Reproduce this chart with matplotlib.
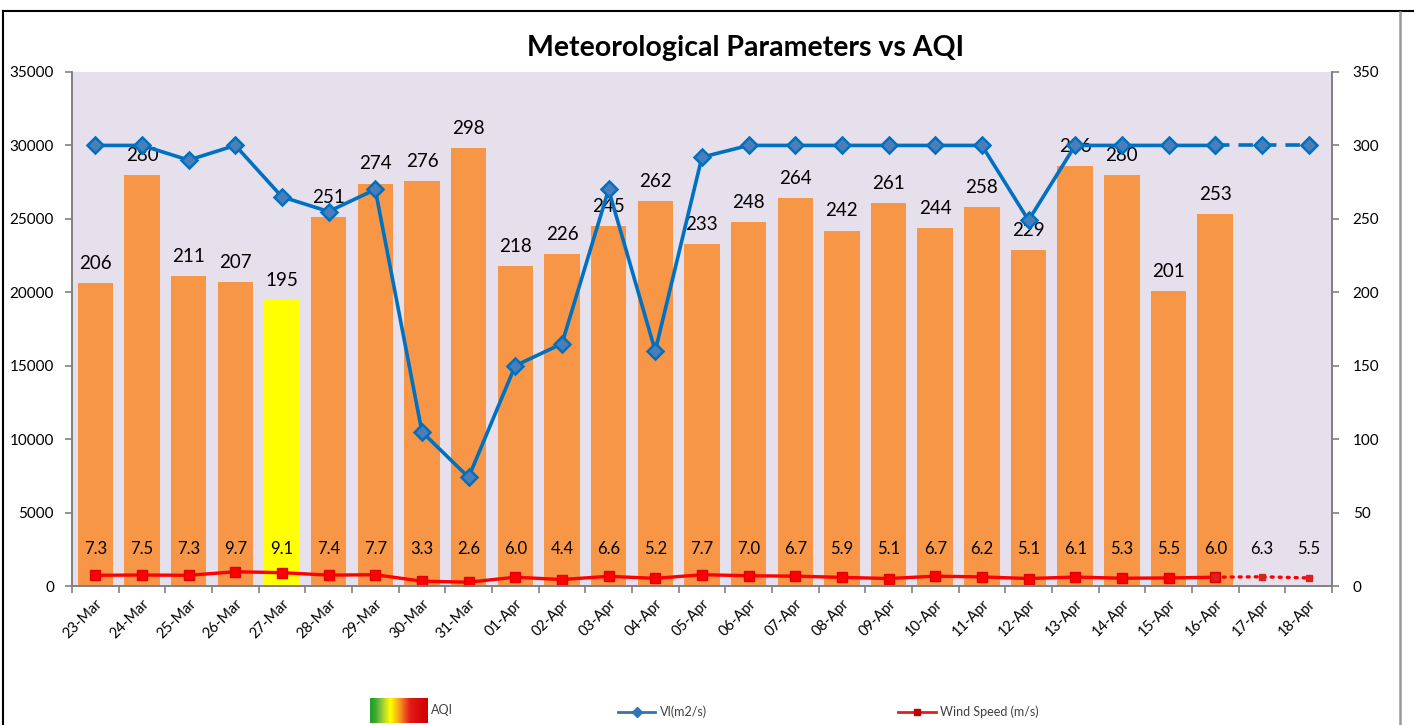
import matplotlib.pyplot as plt
import numpy as np
from matplotlib.lines import Line2D
from matplotlib.colors import LinearSegmentedColormap

plt.rcParams['font.family'] = ['Lato', 'DejaVu Sans']

# data
dates = ['23-Mar', '24-Mar', '25-Mar', '26-Mar', '27-Mar', '28-Mar', '29-Mar', '30-Mar', '31-Mar',
         '01-Apr', '02-Apr', '03-Apr', '04-Apr', '05-Apr', '06-Apr', '07-Apr', '08-Apr', '09-Apr',
         '10-Apr', '11-Apr', '12-Apr', '13-Apr', '14-Apr', '15-Apr', '16-Apr', '17-Apr', '18-Apr']
aqi = [206, 280, 211, 207, 195, 251, 274, 276, 298, 218, 226, 245, 262, 233, 248, 264, 242, 261,
       244, 258, 229, 286, 280, 201, 253]
vi = [30000, 30000, 29000, 30000, 26500, 25500, 27000, 10500, 7400, 15000, 16500, 27000, 16000,
      29200, 30000, 30000, 30000, 30000, 30000, 30000, 24900, 30000, 30000, 30000, 30000, 30000, 30000]
wind = [7.3, 7.5, 7.3, 9.7, 9.1, 7.4, 7.7, 3.3, 2.6, 6.0, 4.4, 6.6, 5.2, 7.7, 7.0, 6.7, 5.9, 5.1,
        6.7, 6.2, 5.1, 6.1, 5.3, 5.5, 6.0, 6.3, 5.5]
n_obs = len(aqi)  # observed days, the rest is forecast

x = np.arange(len(dates))
bar_colors = ['#FFFF00' if d == '27-Mar' else '#F79646' for d in dates[:n_obs]]

fig = plt.figure(figsize=(14.14, 7.25), dpi=100, facecolor='white')
ax2 = fig.add_axes([0.0509, 0.1917, 0.891, 0.709])
ax1 = ax2.twinx()
# left axis (VI) drawn above the bars
ax1.yaxis.tick_left()
ax2.yaxis.tick_right()
ax1.set_zorder(ax2.get_zorder() + 1)
ax1.patch.set_visible(False)
ax2.set_facecolor('#E5E0EC')

# AQI bars (right axis)
ax2.bar(x[:n_obs], aqi, width=0.76, color=bar_colors, zorder=2)
for i, v in enumerate(aqi):
    ax2.annotate(str(v), (x[i], v), xytext=(0, 8), textcoords='offset points',
                 ha='center', va='bottom', fontsize=13.5, color='black')

# wind speed (right axis)
ax2.plot(x[:n_obs], wind[:n_obs], color='#FF0000', lw=2.4, marker='s', ms=6.5,
         mfc='#FF0000', mec='#E00000', zorder=4)
ax2.plot(x[n_obs - 1:], wind[n_obs - 1:], color='#FF0000', lw=2.4, ls=(0, (0.6, 1.8)),
         marker='s', ms=4, mfc='#E02020', mec='#E02020', zorder=4, dash_capstyle='round')
for i, w in enumerate(wind):
    ax2.text(x[i], 25, f'{w:.1f}', ha='center', va='center', fontsize=12, color='black', zorder=5)

# VI line (left axis)
ax1.plot(x[:n_obs], vi[:n_obs], color='#0070C0', lw=2.6, marker='D', ms=8.5,
         mfc='#4A7EBB', mec='#0070C0', mew=1.8, zorder=3)
ax1.plot(x[n_obs - 1:], vi[n_obs - 1:], color='#0070C0', lw=2.6, ls=(0, (4, 2.5)), marker='D',
         ms=8.5, mfc='#4A7EBB', mec='#0070C0', mew=1.8, zorder=3)

ax1.set_ylim(0, 35000)
ax1.set_yticks(np.arange(0, 35001, 5000))
ax2.set_ylim(0, 350)
ax2.set_yticks(np.arange(0, 351, 50))
ax2.set_xlim(-0.5, len(dates) - 0.5)

ax2.set_xticks(x)
ax2.set_xticklabels(dates, rotation=45, ha='right', rotation_mode='anchor', fontsize=10.5)
ax2.set_xticks(np.arange(-0.5, len(dates)), minor=True)
ax2.tick_params(axis='x', which='major', length=0, pad=8)
ax2.tick_params(axis='x', which='minor', length=5, color='#808080', width=1.2)
ax1.tick_params(axis='y', length=5, color='#808080', width=1.2, labelsize=11, pad=8)
ax2.tick_params(axis='y', length=5, color='#808080', width=1.2, labelsize=11, pad=10)

for a in (ax1, ax2):
    a.spines['top'].set_visible(False)
    for s in ['left', 'right', 'bottom']:
        a.spines[s].set_color('#808080')
        a.spines[s].set_linewidth(1.2)

fig.text(0.527, 0.934, 'Meteorological Parameters vs AQI', ha='center', va='center',
         fontsize=20.5, fontweight='bold')

# legend drawn at the bottom
lg = fig.add_axes([0, 0, 1, 0.06])
lg.set_xlim(0, 1414)
lg.set_ylim(0, 43.5)
lg.axis('off')
grad = np.array([[0.0, 0.2, 0.35, 0.5, 0.65, 0.8, 0.9, 1.0]])
cm = LinearSegmentedColormap.from_list('aqi', ['#1E9E2C', '#8CC63F', '#FFFF00', '#F7941D', '#E31B1B', '#D40000'])
lg.imshow(grad, cmap=cm, extent=(370, 428, 2, 27), aspect='auto', interpolation='bicubic')
lg.text(431, 15, 'AQI', fontsize=9, va='center', color='#404040')
lg.plot([618, 655], [13, 13], color='#2E75B6', lw=2)
lg.plot([636.5], [13], marker='D', ms=5, color='#2E75B6')
lg.text(660, 13, 'VI(m2/s)', fontsize=9, va='center', color='#404040')
lg.plot([898, 936], [13, 13], color='#E02020', lw=2)
lg.plot([917], [13], marker='s', ms=5, color='#C00000')
lg.text(940, 13, 'Wind Speed (m/s)', fontsize=9, va='center', color='#404040')

# outer frame
fig.add_artist(Line2D([3 / 1414, 3 / 1414], [0, 1 - 11 / 725], color='black', lw=1.5,
                      transform=fig.transFigure))
fig.add_artist(Line2D([3 / 1414, 1], [1 - 11 / 725, 1 - 11 / 725], color='black', lw=1.5,
                      transform=fig.transFigure))
fig.add_artist(Line2D([1400 / 1414, 1400 / 1414], [0, 1 - 12 / 725], color='#999999', lw=1.8,
                      transform=fig.transFigure))

fig.savefig('out.png', dpi=100, facecolor='white')
